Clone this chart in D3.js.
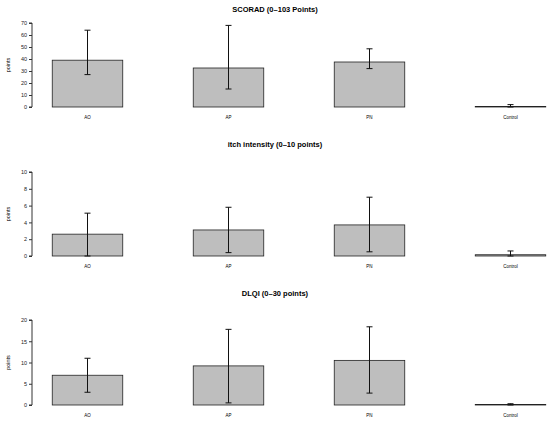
<!DOCTYPE html>
<html><head><meta charset="utf-8">
<script src="https://cdn.jsdelivr.net/npm/d3@7"></script>
<style>body{margin:0;background:#fff}</style>
</head><body><svg width="550" height="422"></svg>
<script>
const groups = ["AO", "AP", "PN", "Control"];
const scoradMean = [39, 32.5, 37.5, 0.5];
const scoradLo = [27, 15, 32, 0];
const scoradHi = [64, 68, 48.5, 2];
const itchMean = [2.6, 3.1, 3.7, 0.15];
const itchLo = [0, 0.4, 0.5, 0];
const itchHi = [5.1, 5.8, 7.0, 0.6];
const dlqiMean = [7, 9.2, 10.5, 0.1];
const dlqiLo = [3, 0.5, 2.8, 0];
const dlqiHi = [11, 17.8, 18.4, 0.3];

const panels = [
  {title: "SCORAD (0\u2013103 Points)", mean: scoradMean, lo: scoradLo, hi: scoradHi, ticks: [0,10,20,30,40,50,60,70], top: 23, bottom: 107, ty: 12},
  {title: "itch intensity (0\u201310 points)", mean: itchMean, lo: itchLo, hi: itchHi, ticks: [0,2,4,6,8,10], top: 172, bottom: 256, ty: 147},
  {title: "DLQI (0\u201330 points)", mean: dlqiMean, lo: dlqiLo, hi: dlqiHi, ticks: [0,5,10,15,20], top: 320, bottom: 405, ty: 296}
];

const svg = d3.select("svg");
const x = d3.scaleBand().domain(groups).range([17, 581]).paddingInner(0.5).paddingOuter(0.25);

panels.forEach(p => {
  const ymax = p.ticks[p.ticks.length - 1];
  const y = d3.scaleLinear().domain([0, ymax]).range([p.bottom, p.top]);
  svg.append("text").attr("x", 275).attr("y", p.ty).attr("text-anchor", "middle")
    .style("font", "bold 7.5px 'Liberation Sans', Arial").text(p.title);
  const ax = svg.append("g").attr("transform", "translate(32,0)")
    .call(d3.axisLeft(y).tickValues(p.ticks).tickSize(3).tickPadding(2));
  ax.select(".domain").attr("d", `M-3,${y(0)}H0V${y(ymax)}H-3`).attr("stroke", "#333");
  ax.selectAll(".tick line").attr("stroke", "#333");
  ax.selectAll("text").style("font", "5.5px 'Liberation Sans', Arial").attr("fill", "#222");
  svg.append("text").attr("transform", `translate(10,${(p.top + p.bottom) / 2}) rotate(-90)`)
    .attr("text-anchor", "middle").style("font", "5.5px 'Liberation Sans', Arial").text("points");
  const g = svg.append("g");
  g.selectAll("rect").data(groups).enter().append("rect")
    .attr("x", d => x(d)).attr("width", x.bandwidth())
    .attr("y", (d, i) => y(p.mean[i])).attr("height", (d, i) => y(0) - y(p.mean[i]))
    .attr("fill", "#bebebe").attr("stroke", "#222").attr("stroke-width", 0.8);
  groups.forEach((d, i) => {
    const cx = x(d) + x.bandwidth() / 2;
    g.append("line").attr("x1", cx).attr("x2", cx).attr("y1", y(p.lo[i])).attr("y2", y(p.hi[i]))
      .attr("stroke", "#111").attr("stroke-width", 1);
    [p.lo[i], p.hi[i]].forEach(v => g.append("line").attr("x1", cx - 3).attr("x2", cx + 3)
      .attr("y1", y(v)).attr("y2", y(v)).attr("stroke", "#111").attr("stroke-width", 1));
    g.append("text").attr("x", cx).attr("y", p.bottom + 12).attr("text-anchor", "middle")
      .style("font", "4.5px 'Liberation Sans', Arial").text(d);
  });
});
</script></body></html>
